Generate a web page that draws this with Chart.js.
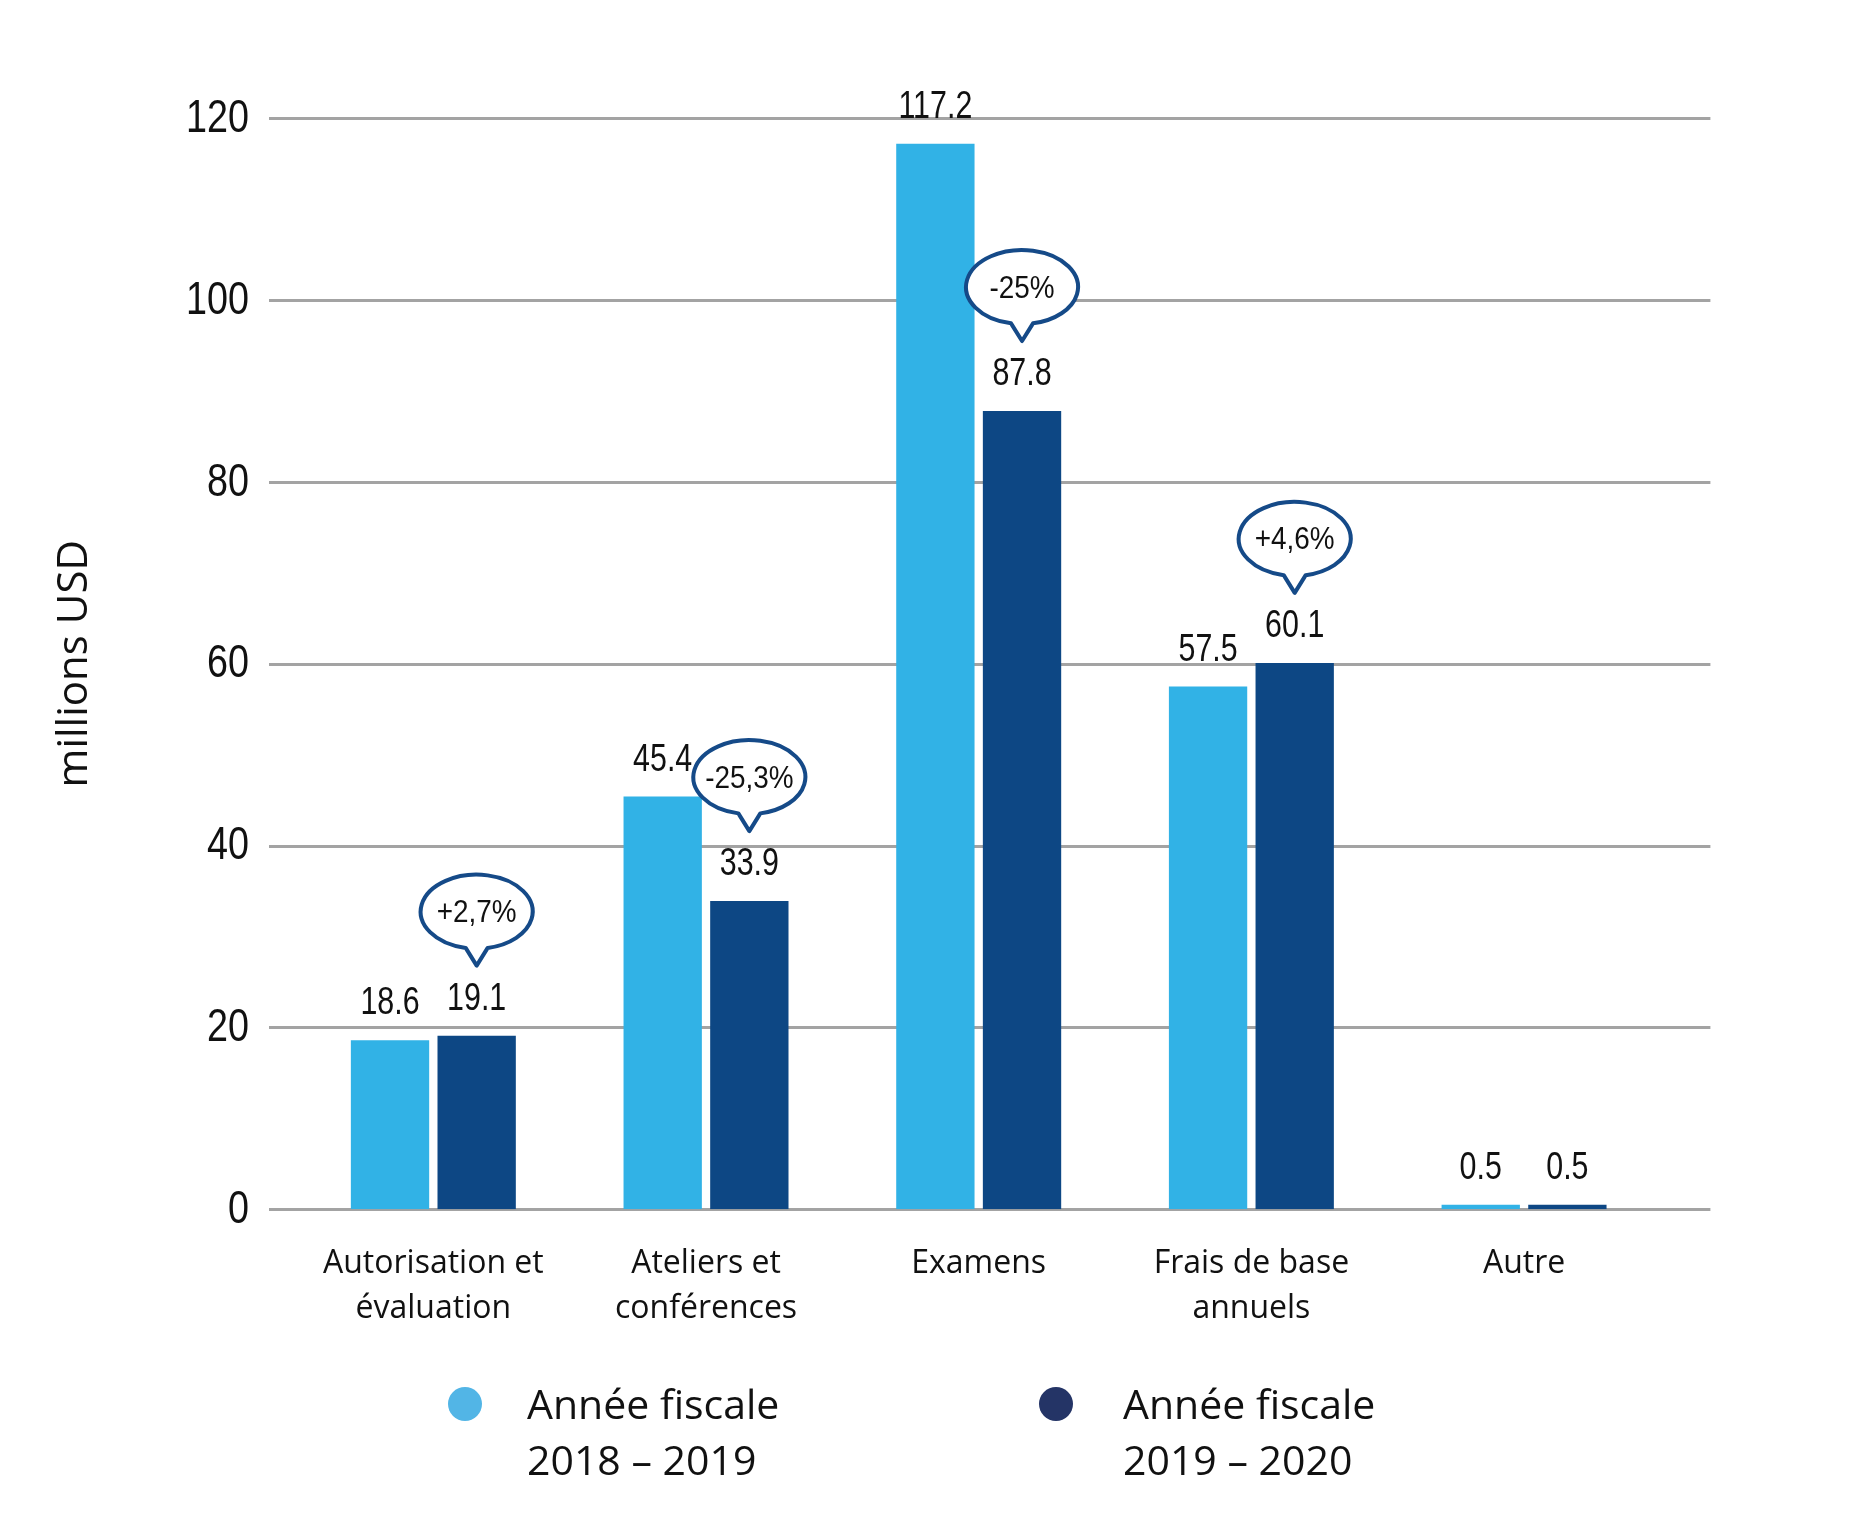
<!DOCTYPE html>
<html><head><meta charset="utf-8">
<script src="https://cdn.jsdelivr.net/npm/chart.js@4"></script>
<style>html,body{margin:0;padding:0;background:#fff;} #wrap{width:1853px;height:1532px;position:relative;}</style>
</head><body><div id="wrap"><canvas id="c" width="1853" height="1532"></canvas></div>
<script>
const categories = [['Autorisation et','évaluation'],['Ateliers et','conférences'],['Examens'],['Frais de base','annuels'],['Autre']];
const seriesLabels = [['Année fiscale','2018 – 2019'],['Année fiscale','2019 – 2020']];
const values2018 = [18.6, 45.4, 117.2, 57.5, 0.5];
const values2019 = [19.1, 33.9, 87.8, 60.1, 0.5];
const changes2019 = ['+2,7%', '-25,3%', '-25%', '+4,6%', null];
const yMin = 0, yMax = 120, yStep = 20;

const barColors = ['#31b2e6', '#0d4784'];
const legendColors = ['#52b5e6', '#243466'];
const arialLike = '"Liberation Sans", Arial, sans-serif';
const sans = '"Open Sans", "Noto Sans", sans-serif';

// draw horizontally condensed text (mimics a condensed face)
function condensedText(ctx, text, x, y, size, sx, align, baseline) {
  ctx.save();
  ctx.translate(x, y);
  ctx.scale(sx, 1);
  ctx.font = size + 'px ' + arialLike;
  ctx.textAlign = align;
  ctx.textBaseline = baseline;
  ctx.fillText(text, 0, 0);
  ctx.restore();
}

const gridPlugin = {
  id: 'extGrid',
  beforeDatasetsDraw(chart) {
    const {ctx, chartArea, scales} = chart;
    ctx.save();
    ctx.strokeStyle = '#a3a3a3';
    ctx.lineWidth = 3;
    scales.y.ticks.forEach(t => {
      const y = Math.round(scales.y.getPixelForValue(t.value)) + 0.5;
      ctx.beginPath();
      ctx.moveTo(chartArea.left - 28, y);
      ctx.lineTo(chartArea.right + 50, y);
      ctx.stroke();
    });
    ctx.fillStyle = '#111';
    scales.y.ticks.forEach(t => {
      const y = scales.y.getPixelForValue(t.value);
      condensedText(ctx, String(t.value), chartArea.left - 48, y + 1, 46, 0.82, 'right', 'middle');
    });
    ctx.restore();
  }
};

const labelPlugin = {
  id: 'valueLabels',
  afterDatasetsDraw(chart) {
    const {ctx} = chart;
    ctx.save();
    chart.data.datasets.forEach((ds, di) => {
      const meta = chart.getDatasetMeta(di);
      meta.data.forEach((el, i) => {
        ctx.fillStyle = '#111';
        condensedText(ctx, ds.data[i].toFixed(1), el.x, el.y - 26, 38, 0.8, 'center', 'alphabetic');
        if (di === 1 && changes2019[i]) {
          const tipY = el.y - 70;
          const cx = el.x, cy = tipY - 54, rx = 56, ry = 37, jx = 11;
          const t1 = Math.acos(jx / rx);
          const t0 = Math.PI - t1;
          ctx.beginPath();
          ctx.ellipse(cx, cy, rx, ry, 0, t0, t1 + 2 * Math.PI, false);
          ctx.lineTo(cx, tipY);
          ctx.closePath();
          ctx.fillStyle = '#fff';
          ctx.fill();
          ctx.lineWidth = 4;
          ctx.lineJoin = 'round';
          ctx.strokeStyle = '#154a88';
          ctx.stroke();
          ctx.fillStyle = '#111';
          condensedText(ctx, changes2019[i], cx, cy + 2, 31, 0.9, 'center', 'middle');
        }
      });
    });
    ctx.restore();
  }
};

const legendPlugin = {
  id: 'customLegend',
  afterDraw(chart) {
    const {ctx} = chart;
    const markerX = [465, 1056];
    const textX = [527, 1123];
    ctx.save();
    seriesLabels.forEach((lines, i) => {
      ctx.beginPath();
      ctx.fillStyle = legendColors[i];
      ctx.arc(markerX[i], 1404, 17, 0, 2 * Math.PI);
      ctx.fill();
      ctx.fillStyle = '#111';
      ctx.font = '41px ' + sans;
      ctx.textAlign = 'left';
      ctx.textBaseline = 'alphabetic';
      lines.forEach((ln, k) => ctx.fillText(ln, textX[i], 1419 + k * 56));
    });
    ctx.restore();
  }
};

new Chart(document.getElementById('c'), {
  type: 'bar',
  data: {
    labels: categories,
    datasets: [
      { label: seriesLabels[0].join(' '), data: values2018, backgroundColor: barColors[0], borderWidth: 0,
        barPercentage: 0.904, categoryPercentage: 0.6355 },
      { label: seriesLabels[1].join(' '), data: values2019, backgroundColor: barColors[1], borderWidth: 0,
        barPercentage: 0.904, categoryPercentage: 0.6355 }
    ]
  },
  options: {
    responsive: false,
    animation: false,
    devicePixelRatio: 1,
    layout: { padding: { top: 118.3, right: 192.6, left: 0, bottom: 0 } },
    plugins: { legend: { display: false }, tooltip: { enabled: false } },
    scales: {
      x: {
        grid: { display: false, drawTicks: false },
        border: { display: false },
        ticks: { color: '#111', font: { family: sans, size: 32, lineHeight: 1.4 }, padding: 32, maxRotation: 0, autoSkip: false },
        afterFit(s) { s.height = 1532 - 1209.3; }
      },
      y: {
        min: yMin, max: yMax,
        grid: { display: false, drawTicks: false },
        border: { display: false },
        ticks: { display: false, stepSize: yStep },
        title: { display: true, text: 'millions USD', color: '#111', font: { family: sans, size: 42 }, padding: { top: 50, bottom: 0 } },
        afterFit(s) { s.width = 297; }
      }
    }
  },
  plugins: [gridPlugin, labelPlugin, legendPlugin]
});
</script>
</body></html>
